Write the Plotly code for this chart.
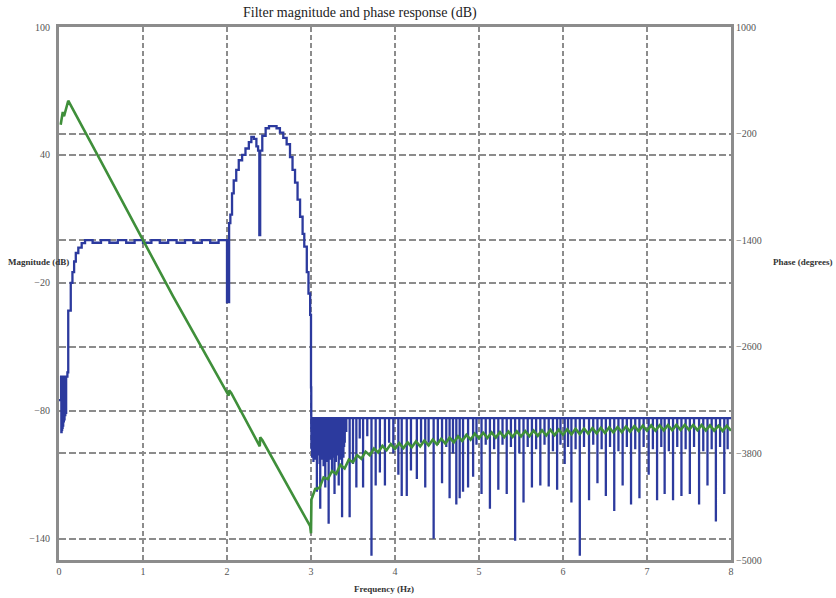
import plotly.graph_objects as go

# ---------------- data ----------------
# Magnitude (dB) - low band, passband and two-lobe bump
mag_f = [0.0, 0.025, 0.028, 0.031, 0.034, 0.037, 0.040, 0.043, 0.046, 0.050, 0.054,
         0.058, 0.062, 0.066, 0.070, 0.075, 0.080, 0.085, 0.100, 0.110, 0.140, 0.160,
         0.180, 0.200, 0.230, 0.270, 0.310, 0.40, 0.50, 0.60, 0.70, 0.80, 0.90, 1.00,
         1.10, 1.20, 1.30, 1.40, 1.50, 1.60, 1.70, 1.80, 1.90, 1.995, 2.000, 2.015,
         2.025, 2.040, 2.060, 2.080, 2.110, 2.140, 2.180, 2.220, 2.260, 2.290, 2.320,
         2.350, 2.370, 2.385, 2.395, 2.420, 2.460, 2.500, 2.550, 2.590, 2.630, 2.670,
         2.710, 2.750, 2.780, 2.810, 2.840, 2.870, 2.900, 2.920, 2.950, 2.970, 2.990,
         3.000, 3.003]
mag_db = [-75, -64, -90, -64, -89, -64, -88, -64, -87, -64, -85,
          -64, -84, -64, -82, -64, -81, -64, -62, -33, -20, -15,
          -10, -6, -3.5, -1.4, 0, -1.2, 0, -1.2, 0, -1.2, 0, -1.2,
          0, -1.2, 0, -1.2, 0, -1.2, 0, -1.2, 0, 0, -29, -29,
          8, 12, 22, 28, 33, 37.5, 40, 43, 46, 48.5, 47.5,
          44, 42, 2.4, 42, 49, 52.5, 53.5, 53.5, 52.5, 50.5, 48,
          45, 39, 33, 27, 19, 11, 3, -3, -15, -25, -35,
          -69, -88]

# Magnitude stopband: level of the ripple tops and the notch (spike) depths
stop_top_db = -83.5
spike_f = [3.005, 3.013, 3.021, 3.029, 3.037, 3.045, 3.053, 3.061, 3.070, 3.078, 3.086,
           3.094, 3.102, 3.110, 3.118, 3.126, 3.134, 3.142, 3.150, 3.158, 3.170, 3.178,
           3.186, 3.194, 3.202, 3.210, 3.218, 3.226, 3.234, 3.242, 3.250, 3.258, 3.266,
           3.280, 3.288, 3.296, 3.304, 3.312, 3.330, 3.338, 3.346, 3.354, 3.362, 3.370,
           3.378, 3.386, 3.394, 3.402,
           3.42, 3.46, 3.50, 3.54, 3.58, 3.62, 3.67, 3.72, 3.77, 3.82, 3.88, 3.93, 3.98,
           4.04, 4.08, 4.14, 4.19, 4.26, 4.31, 4.36, 4.40, 4.46, 4.51, 4.56, 4.61, 4.65,
           4.69, 4.73, 4.77, 4.81, 4.87, 4.93, 4.97, 5.03, 5.08, 5.13, 5.18, 5.23, 5.28,
           5.33, 5.38, 5.43, 5.48, 5.53, 5.58, 5.63, 5.68, 5.73, 5.78, 5.83, 5.88, 5.93,
           5.97, 6.02, 6.06, 6.10, 6.15, 6.20, 6.25, 6.31, 6.36, 6.41, 6.46, 6.51, 6.56,
           6.61, 6.66, 6.71, 6.76, 6.81, 6.86, 6.91, 6.96, 7.02, 7.07, 7.12, 7.17, 7.21,
           7.26, 7.31, 7.36, 7.41, 7.46, 7.51, 7.56, 7.62, 7.67, 7.72, 7.77, 7.82, 7.87,
           7.92, 7.96]
spike_db = [-98, -102, -96, -104, -99, -97, -103, -100, -118, -98, -101,
            -97, -105, -126, -99, -103, -97, -100, -106, -98, -116, -101,
            -97, -104, -99, -133, -100, -96, -103, -99, -108, -97, -102,
            -119, -98, -104, -97, -101, -115, -99, -103, -96, -100, -130,
            -98, -102, -97, -95,
            -90, -130, -105, -116, -93, -116, -92, -148, -115, -109, -115, -95, -100,
            -110, -120, -120, -108, -112, -95, -116, -95, -140, -96, -114, -97, -121,
            -100, -124, -121, -118, -116, -111, -96, -119, -96, -126, -98, -117, -96,
            -119, -97, -141, -100, -123, -97, -116, -98, -115, -96, -115.5, -99, -117,
            -96, -105, -97, -123, -98, -148, -97, -122, -96, -114, -98, -120, -97,
            -127, -99, -115, -97, -124, -98, -121, -97, -110, -98, -122, -97, -119,
            -99, -122, -97, -120, -98, -119, -97, -124, -99, -115, -98, -132, -97,
            -119, -98]

# Phase (degrees)
phase_f = [0.02, 0.045, 0.06, 0.11, 0.49, 1.00, 1.36, 2.02, 2.025, 2.05, 2.39, 2.395,
           2.42, 2.99, 3.00, 3.005,
           3.05, 3.10, 3.15, 3.20, 3.25, 3.30, 3.35, 3.40, 3.45, 3.50, 3.55, 3.60, 3.65,
           3.70, 3.75, 3.80, 3.85, 3.90, 3.95, 4.00, 4.05, 4.10, 4.15, 4.20, 4.25, 4.30,
           4.35, 4.40, 4.45, 4.50, 4.55, 4.60, 4.65, 4.70, 4.75, 4.80, 4.85, 4.90, 4.95,
           5.00, 5.05, 5.10, 5.15, 5.20, 5.25, 5.30, 5.35, 5.40, 5.45, 5.50, 5.55, 5.60,
           5.65, 5.70, 5.75, 5.80, 5.85, 5.90, 5.95, 6.00, 6.05, 6.10, 6.15, 6.20, 6.25,
           6.30, 6.35, 6.40, 6.45, 6.50, 6.55, 6.60, 6.65, 6.70, 6.75, 6.80, 6.85, 6.90,
           6.95, 7.00, 7.05, 7.10, 7.15, 7.20, 7.25, 7.30, 7.35, 7.40, 7.45, 7.50, 7.55,
           7.60, 7.65, 7.70, 7.75, 7.80, 7.85, 7.90, 7.95, 8.00]
phase_deg = [-100, 45, -5, 170, -497, -1400, -2036, -3150, -3090, -3120, -3720, -3620,
             -3650, -4620, -4700, -4320,
             -4200, -4190, -4070, -4090, -4000, -4030, -3930, -3970, -3870, -3900, -3820,
             -3860, -3780, -3820, -3745, -3790, -3715, -3765, -3695, -3750, -3685, -3740,
             -3675, -3730, -3665, -3720, -3655, -3710, -3645, -3700, -3635, -3690, -3622,
             -3675, -3607, -3660, -3592, -3645, -3577, -3630, -3568, -3626, -3564, -3622,
             -3560, -3618, -3556, -3614, -3552, -3610, -3548, -3606, -3544, -3602, -3540,
             -3598, -3536, -3594, -3532, -3590, -3528, -3586, -3524, -3582, -3520, -3578,
             -3516, -3574, -3512, -3570, -3508, -3565, -3503, -3560, -3498, -3555, -3493,
             -3550, -3488, -3545, -3485, -3543, -3483, -3541, -3481, -3539, -3479, -3537,
             -3477, -3535, -3480, -3538, -3482, -3541, -3485, -3544, -3488, -3547, -3490,
             -3545]

x_ticks = [0, 1, 2, 3, 4, 5, 6, 7, 8]
mag_ticks = [100, 40, -20, -80, -140]
phase_ticks = [1000, -200, -1400, -2600, -3800, -5000]

# ---------------- build magnitude polyline ----------------
mx = list(mag_f)
my = list(mag_db)
for f, d in zip(spike_f, spike_db):
    mx += [f, f, f]
    my += [stop_top_db, d, stop_top_db]
mx.append(x_ticks[-1])
my.append(stop_top_db)

BLUE = "#2c3a9e"
GREEN = "#3f8f3a"
GRID = "#8c8c8c"
SERIF = "Liberation Serif, Times New Roman, serif"

fig = go.Figure()
fig.add_trace(go.Scatter(x=mx, y=my, mode="lines", line=dict(color=BLUE, width=2.3, shape="hv"),
                         yaxis="y", showlegend=False, hoverinfo="skip"))
fig.add_trace(go.Scatter(x=phase_f, y=phase_deg, mode="lines", line=dict(color=GREEN, width=2.6),
                         yaxis="y2", showlegend=False, hoverinfo="skip"))

tickfont = dict(family=SERIF, size=10, color="#555555")

fig.update_layout(
    width=836, height=598,
    margin=dict(l=59, r=105, t=27, b=38),
    paper_bgcolor="white", plot_bgcolor="white",
    xaxis=dict(range=[0, 8], tickvals=x_ticks, ticktext=[str(v) for v in x_ticks],
               showgrid=True, gridcolor=GRID, gridwidth=2, griddash="5px,3px",
               showline=True, linecolor=GRID, linewidth=3, mirror=True,
               zeroline=False, ticks="", tickfont=tickfont),
    yaxis=dict(range=[-150, 100], tickvals=mag_ticks,
               showgrid=True, gridcolor=GRID, gridwidth=2, griddash="7px,3px",
               showline=True, linecolor=GRID, linewidth=3, mirror=True,
               zeroline=False, ticks="", tickfont=tickfont, ticklabelstandoff=4),
    yaxis2=dict(range=[-5000, 1000], tickvals=phase_ticks, overlaying="y", side="right",
                showgrid=True, gridcolor=GRID, gridwidth=2, griddash="7px,3px",
                showline=True, linecolor=GRID, linewidth=3,
                zeroline=False, ticks="", tickfont=tickfont),
    annotations=[
        dict(text="Filter magnitude and phase response (dB)", xref="paper", yref="paper",
             x=0.448, y=1.0, yshift=24, showarrow=False,
             font=dict(family=SERIF, size=14, color="#222222")),
        dict(text="<b>Magnitude (dB)</b>", xref="paper", yref="paper", x=0, xshift=-53,
             xanchor="left", y=0.559, showarrow=False,
             font=dict(family=SERIF, size=9, color="#333333")),
        dict(text="<b>Phase (degrees)</b>", xref="paper", yref="paper", x=1, xshift=104,
             xanchor="right", y=0.559, showarrow=False,
             font=dict(family=SERIF, size=9, color="#333333")),
        dict(text="<b>Frequency (Hz)</b>", xref="paper", yref="paper", x=0.484,
             y=0, yshift=-36, showarrow=False,
             font=dict(family=SERIF, size=9, color="#333333")),
    ],
)

# remove the default page margin so the figure fills the window exactly
fig.write_html("out.html", config={"displayModeBar": False},
               post_script="document.body.style.margin='0';")
